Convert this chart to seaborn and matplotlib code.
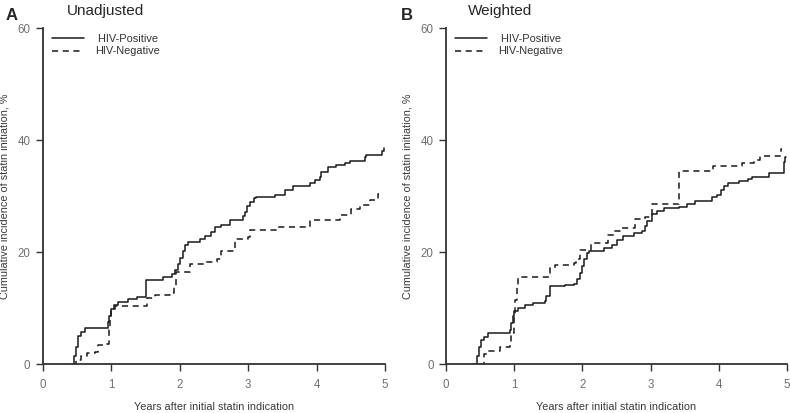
import pandas as pd
import matplotlib.pyplot as plt
import seaborn as sns

# Datos (años desde indicación, incidencia acumulada %)
a_pos_t = [0.42, 0.45, 0.48, 0.51, 0.55, 0.61, 0.955, 0.97, 1.00, 1.04, 1.10, 1.25, 1.37, 1.50,
           1.76, 1.88, 1.93, 1.97, 2.01, 2.05, 2.08, 2.12, 2.30, 2.37, 2.45, 2.51, 2.61, 2.73,
           2.92, 2.95, 2.99, 3.03, 3.08, 3.12, 3.39, 3.54, 3.66, 3.90, 3.98, 4.05, 4.07, 4.17,
           4.29, 4.42, 4.49, 4.71, 4.73, 4.95, 4.98, 4.99]
a_pos_v = [0.0, 1.5, 3.0, 5.0, 5.8, 6.4, 7.5, 8.5, 9.9, 10.6, 11.1, 11.6, 12.0, 15.0,
           15.5, 16.0, 16.8, 17.8, 19.0, 20.2, 21.3, 21.8, 22.4, 22.9, 23.6, 24.5, 24.8, 25.7,
           26.5, 27.2, 28.2, 29.0, 29.6, 29.9, 30.2, 31.1, 31.7, 32.4, 32.9, 33.4, 34.2, 35.1,
           35.5, 35.9, 36.3, 36.9, 37.3, 38.0, 38.5, 38.5]

a_neg_t = [0.44, 0.49, 0.55, 0.64, 0.76, 0.81, 0.93, 0.965, 0.98, 1.00, 1.05, 1.52, 1.64, 1.86,
           1.91, 1.95, 2.15, 2.39, 2.54, 2.61, 2.81, 3.00, 3.03, 3.42, 3.91, 4.34, 4.51, 4.63,
           4.78, 4.90, 4.91]
a_neg_v = [0.0, 0.8, 1.4, 2.0, 2.2, 3.4, 3.6, 6.1, 8.0, 9.6, 10.4, 11.7, 12.4, 12.6,
           13.9, 16.5, 17.8, 18.3, 18.7, 20.1, 22.4, 22.7, 24.0, 24.5, 25.7, 26.6, 27.6, 28.4,
           29.3, 30.4, 30.4]

b_pos_t = [0.40, 0.45, 0.49, 0.52, 0.55, 0.62, 0.94, 0.96, 0.98, 1.00, 1.06, 1.16, 1.28, 1.45,
           1.47, 1.52, 1.74, 1.87, 1.92, 1.96, 2.00, 2.03, 2.06, 2.09, 2.31, 2.43, 2.50, 2.60,
           2.75, 2.87, 2.92, 2.94, 3.02, 3.09, 3.19, 3.41, 3.53, 3.65, 3.90, 3.97, 4.03, 4.07,
           4.14, 4.29, 4.43, 4.48, 4.73, 4.95, 4.97, 4.99]
b_pos_v = [0.0, 1.5, 3.1, 4.2, 4.9, 5.6, 6.0, 7.3, 8.5, 9.4, 10.0, 10.6, 10.9, 11.3,
           12.2, 14.0, 14.1, 14.3, 15.2, 16.2, 17.5, 18.8, 19.8, 20.1, 20.7, 21.3, 22.2, 22.9,
           23.4, 23.7, 24.6, 25.5, 26.7, 27.3, 27.8, 28.0, 28.5, 29.1, 29.8, 30.2, 31.0, 31.7,
           32.3, 32.6, 33.0, 33.4, 34.1, 36.0, 37.0, 37.0]

b_neg_t = [0.50, 0.55, 0.60, 0.79, 0.94, 0.96, 0.99, 1.01, 1.04, 1.06, 1.53, 1.60, 1.87, 1.91,
           1.96, 2.13, 2.38, 2.47, 2.55, 2.77, 2.92, 3.02, 3.42, 3.91, 4.34, 4.51, 4.61, 4.91,
           4.92]
b_neg_v = [0.0, 1.7, 2.4, 3.1, 3.6, 5.5, 8.5, 11.5, 13.8, 15.6, 17.1, 17.7, 18.0, 18.7,
           20.4, 21.6, 23.1, 23.7, 24.3, 25.9, 26.3, 28.6, 34.4, 35.4, 35.9, 36.5, 37.1, 38.4,
           38.4]

grupos = ["HIV-Positive", "HIV-Negative"]
paneles = [("A", "Unadjusted", a_pos_t, a_pos_v, a_neg_t, a_neg_v),
           ("B", "Weighted", b_pos_t, b_pos_v, b_neg_t, b_neg_v)]

sns.set_style("ticks")
plt.rcParams["font.family"] = ["Liberation Sans", "DejaVu Sans"]


def armar_df(pos_t, pos_v, neg_t, neg_v):
    df_pos = pd.DataFrame({"years": pos_t, "incidence": pos_v, "group": grupos[0]})
    df_neg = pd.DataFrame({"years": neg_t, "incidence": neg_v, "group": grupos[1]})
    return pd.concat([df_pos, df_neg], ignore_index=True)


fig = plt.figure(figsize=(7.9, 4.13), dpi=100)
posiciones = [[0.0544, 0.1186, 0.4329, 0.8136], [0.5646, 0.1186, 0.4316, 0.8136]]
letras_x = [0.007, 0.507]
titulos_x = [0.0848, 0.592]

for (letra, titulo, pt, pv, nt, nv), pos, lx, tx in zip(paneles, posiciones, letras_x, titulos_x):
    ax = fig.add_axes(pos)
    df = armar_df(pt, pv, nt, nv)
    sns.lineplot(data=df, x="years", y="incidence", style="group", style_order=grupos,
                 dashes={"HIV-Positive": "", "HIV-Negative": (4, 3)},
                 color="#1a1a1a", linewidth=1.1, estimator=None,
                 drawstyle="steps-post", ax=ax)
    ax.set_xlim(0, 5)
    ax.set_ylim(0, 60)
    ax.set_xticks(range(0, 6))
    ax.set_yticks([0, 20, 40, 60])
    ax.tick_params(axis="both", labelsize=8.3, labelcolor="#707070", color="#333333",
                   length=5, width=1.0, direction="out")
    ax.tick_params(axis="x", pad=6)
    ax.tick_params(axis="y", pad=4)
    for lado in ["left", "bottom"]:
        ax.spines[lado].set_color("#333333")
        ax.spines[lado].set_linewidth(1.3)
    sns.despine(ax=ax)
    ax.set_xlabel("Years after initial statin indication", fontsize=7.8, color="#3a3a3a",
                  labelpad=8)
    ax.set_ylabel("Cumulative incidence of statin initiation, %", fontsize=7.8,
                  color="#3a3a3a", labelpad=6)
    handles, labels = ax.get_legend_handles_labels()
    labels = [" " + lab if lab == "HIV-Positive" else lab for lab in labels]
    ax.legend(handles, labels, loc="upper left", bbox_to_anchor=(-0.002, 1.011), frameon=False,
              fontsize=7.9, handlelength=2.9, handletextpad=1.0, labelspacing=0.2,
              labelcolor="#333333")
    fig.text(lx, 0.980, letra, fontsize=12, fontweight="bold", va="top", ha="left")
    fig.text(tx, 0.990, titulo, fontsize=11, va="top", ha="left")

fig.savefig("out.png", dpi=100)
plt.close(fig)
